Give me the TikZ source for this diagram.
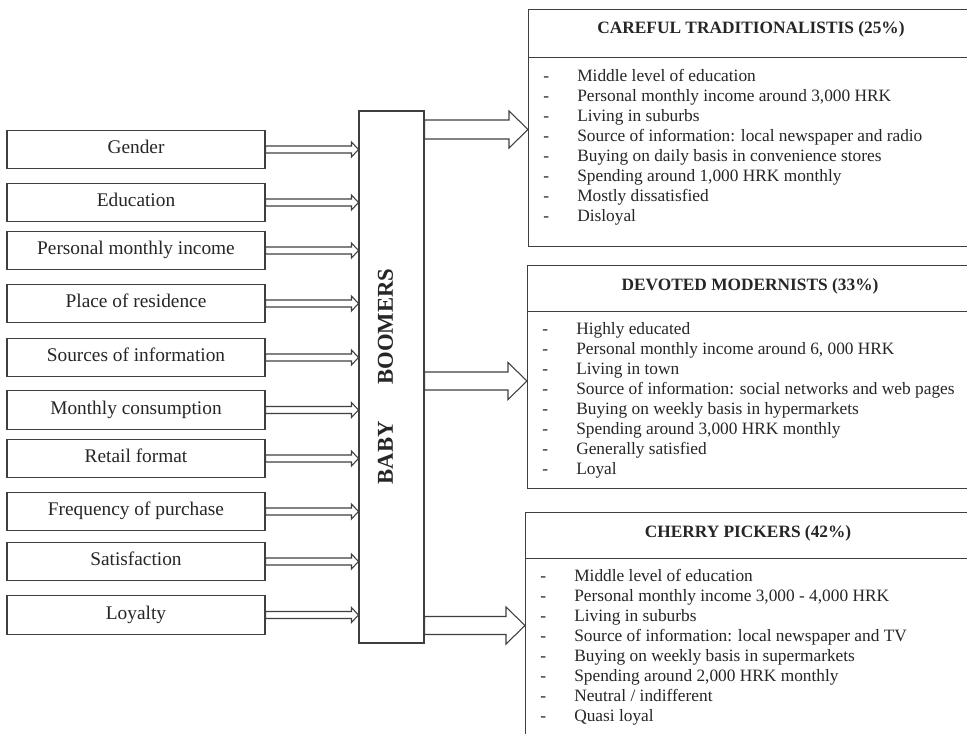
\documentclass[tikz,border=0pt]{standalone}
\usepackage{fontspec}
\setmainfont{Liberation Serif}
\usetikzlibrary{calc}
\definecolor{ln}{HTML}{3F3F3F}
\definecolor{tx}{HTML}{262626}
\newcommand{\hollowarrow}[5]{%
  \draw[arrline] ($(#1)+(0,#3)$) -- ($(#2)+(-#5,#3)$) -- ($(#2)+(-#5,#4)$) -- (#2)
    -- ($(#2)+(-#5,-#4)$) -- ($(#2)+(-#5,-#3)$) -- ($(#1)+(0,-#3)$) -- cycle;}
\begin{document}
\begin{tikzpicture}[x=0.75pt,y=-0.75pt,
  every node/.style={text=tx},
  lbox/.style={draw=ln, line width=0.8pt, minimum width=193.5pt, minimum height=29pt, inner sep=0pt,
    font=\fontsize{14.5}{17}\selectfont, text height=0.72em, text depth=0.1em},
  rbox/.style={draw=ln, line width=0.8pt, minimum width=337.5pt, anchor=north west, inner sep=0pt},
  head/.style={font=\fontsize{13}{15}\selectfont\bfseries, anchor=base, inner sep=0pt},
  item/.style={font=\fontsize{13}{15}\selectfont, anchor=base west, inner sep=0pt},
  arrline/.style={draw=ln, line width=0.8pt, fill=white, line join=miter}]
\useasboundingbox (0,0) rectangle (967,733);
\clip (0,0) rectangle (967,733);
\fill[white] (0,0) rectangle (967,733);

% left factor boxes
\node[lbox] (g1) at (136,149.5) {Gender};
\node[lbox] (g2) at (136,202.5) {Education};
\node[lbox] (g3) at (136,250.5) {Personal monthly income};
\node[lbox] (g4) at (136,303.5) {Place of residence};
\node[lbox] (g5) at (136,357.5) {Sources of information};
\node[lbox] (g6) at (136,410) {Monthly consumption};
\node[lbox] (g7) at (136,458.5) {Retail format};
\node[lbox] (g8) at (136,511.5) {Frequency of purchase};
\node[lbox] (g9) at (136,561.5) {Satisfaction};
\node[lbox] (g10) at (136,615) {Loyalty};

% central box
\node[draw=ln, line width=0.8pt, minimum width=48.75pt, minimum height=399pt, inner sep=0pt] (bb) at (391.5,377) {};
\node[rotate=90, font=\fontsize{17}{20}\selectfont\bfseries, inner sep=0pt] (bbt) at (385.5,376.5) {BABY\hspace*{27.75pt}BOOMERS};

% small arrows
\foreach \i in {1,...,10} {
  \coordinate (e\i) at (bb.west |- g\i.east);
  \hollowarrow{g\i.east}{e\i}{3.5}{7.5}{7}
}

% right boxes
\node[rbox, minimum height=36pt] (h1) at (528,9) {};
\node[rbox, minimum height=141.75pt] (b1) at (528,57) {};
\node[head] (ht1) at (751,33) {CAREFUL TRADITIONALISTIS (25\%)};
\foreach \t [count=\i] in {Middle level of education, {Personal monthly income around 3,000 HRK}, Living in suburbs,
  Source of information: local newspaper and radio, Buying on daily basis in convenience stores,
  {Spending around 1,000 HRK monthly}, Mostly dissatisfied, Disloyal} {
  \pgfmathsetmacro\yy{81+(\i-1)*20.14}
  \node[item] (d1-\i) at (543,\yy) {-};
  \node[item] (i1-\i) at (577,\yy) {\t};
}

\node[rbox, minimum height=34.5pt] (h2) at (527,265) {};
\node[rbox, minimum height=132.75pt] (b2) at (527,311) {};
\node[head] (ht2) at (750,290) {DEVOTED MODERNISTS (33\%)};
\foreach \t [count=\i] in {Highly educated, {Personal monthly income around 6, 000 HRK}, Living in town,
  Source of information: social networks and web pages, Buying on weekly basis in hypermarkets,
  {Spending around 3,000 HRK monthly}, Generally satisfied, Loyal} {
  \pgfmathsetmacro\yy{334+(\i-1)*20}
  \node[item] (d2-\i) at (542,\yy) {-};
  \node[item] (i2-\i) at (576,\yy) {\t};
}

\node[rbox, minimum height=34.5pt] (h3) at (525,512) {};
\node[rbox, minimum height=150pt] (b3) at (525,558) {};
\node[head] (ht3) at (748,537) {CHERRY PICKERS (42\%)};
\foreach \t [count=\i] in {Middle level of education, {Personal monthly income 3,000 - 4,000 HRK}, Living in suburbs,
  Source of information: local newspaper and TV, Buying on weekly basis in supermarkets,
  {Spending around 2,000 HRK monthly}, Neutral / indifferent, Quasi loyal} {
  \pgfmathsetmacro\yy{581+(\i-1)*20.14}
  \node[item] (d3-\i) at (540,\yy) {-};
  \node[item] (i3-\i) at (574,\yy) {\t};
}

% big arrows
\coordinate (s1) at ($(bb.east)+(0,-247.5)$);
\coordinate (t1) at (b1.west |- s1);
\hollowarrow{s1}{t1}{9.5}{18.5}{19}
\coordinate (s2) at ($(bb.east)+(0,4)$);
\coordinate (t2) at (b2.west |- s2);
\hollowarrow{s2}{t2}{9}{18.5}{19}
\coordinate (s3) at ($(bb.east)+(0,248.5)$);
\coordinate (t3) at (b3.west |- s3);
\hollowarrow{s3}{t3}{9}{18.5}{19}
\end{tikzpicture}
\end{document}
